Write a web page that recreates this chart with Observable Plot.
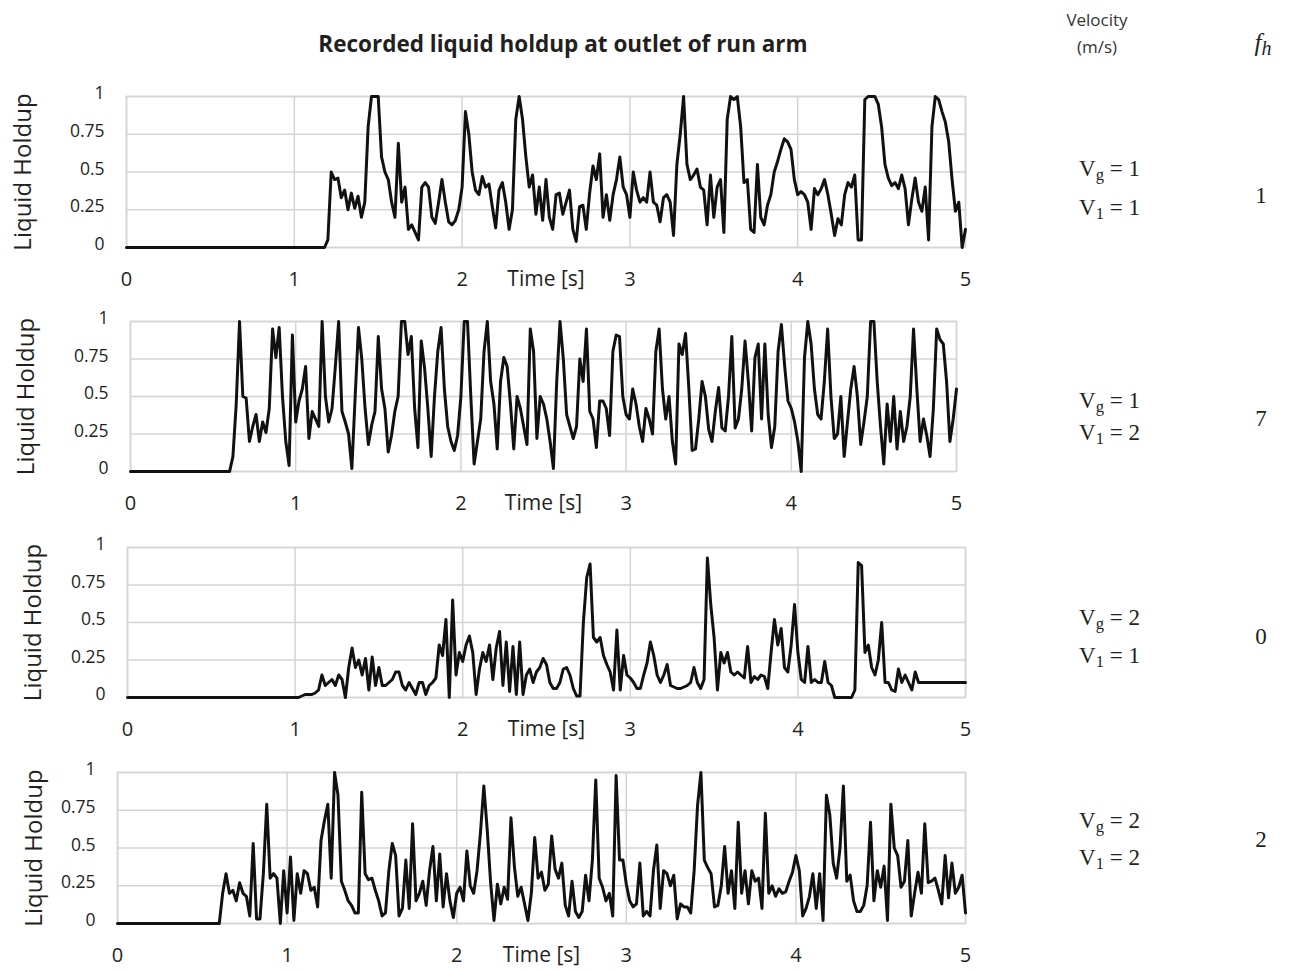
<!DOCTYPE html>
<html><head><meta charset="utf-8">
<script src="https://cdn.jsdelivr.net/npm/d3@7"></script>
<script src="https://cdn.jsdelivr.net/npm/@observablehq/plot@0.6"></script>
<style>
html,body{margin:0;padding:0;background:#fff;}
#root{position:relative;width:1291px;height:970px;overflow:hidden;font-family:"Open Sans",sans-serif;color:#231f20;}
.abs{position:absolute;white-space:nowrap;line-height:1;}
.c{transform:translate(-50%,-50%);}
.l{transform:translate(0,-50%);}
.serif{font-family:"Liberation Serif","Times New Roman",serif;}
.serif sub{font-size:0.72em;vertical-align:-0.3em;line-height:0;}
</style></head><body><div id="root"></div>
<script>
// ---- data (time in s, liquid holdup 0..1), sampled every dt seconds from each panel's start ----
const dt = 0.02;
const xTicks = [0, 1, 2, 3, 4, 5];
const yTicks = [0, 0.25, 0.5, 0.75, 1];
const title = "Recorded liquid holdup at outlet of run arm";
const yTitle = "Liquid Holdup";
const xTitle = "Time [s]";
const vgValues = [1, 1, 2, 2];
const vlValues = [1, 2, 1, 2];
const fhValues = [1, 7, 0, 2];

// Panel 1: Vg = 1, Vl = 1
const p1Start = 1.18;
const p1Values = [
  0,0.05,0.5,0.45,0.46,0.33,0.38,0.25,0.36,0.26,
  0.34,0.2,0.3,0.8,1,1,1,0.6,0.5,0.45,
  0.3,0.2,0.69,0.3,0.4,0.12,0.15,0.1,0.05,0.4,
  0.43,0.4,0.2,0.16,0.3,0.45,0.3,0.17,0.15,0.18,
  0.25,0.4,0.9,0.75,0.5,0.38,0.35,0.47,0.4,0.42,
  0.27,0.13,0.38,0.43,0.3,0.12,0.25,0.85,1,0.85,
  0.6,0.4,0.48,0.22,0.4,0.18,0.45,0.2,0.12,0.35,
  0.36,0.22,0.3,0.38,0.12,0.04,0.27,0.28,0.12,0.36,
  0.54,0.45,0.62,0.2,0.35,0.18,0.35,0.45,0.6,0.4,
  0.35,0.2,0.5,0.38,0.3,0.33,0.3,0.5,0.3,0.28,
  0.17,0.33,0.35,0.3,0.08,0.55,0.75,1,0.55,0.45,
  0.48,0.52,0.4,0.38,0.15,0.48,0.2,0.4,0.45,0.1,
  0.85,1,0.98,1,0.8,0.43,0.45,0.12,0.1,0.55,
  0.2,0.15,0.28,0.35,0.5,0.57,0.65,0.72,0.7,0.65,
  0.45,0.35,0.37,0.35,0.3,0.12,0.39,0.35,0.39,0.45,
  0.35,0.22,0.08,0.19,0.15,0.35,0.43,0.4,0.48,0.05,
  0.05,0.98,1,1,1,0.95,0.8,0.55,0.46,0.41,
  0.43,0.39,0.48,0.39,0.15,0.32,0.46,0.3,0.24,0.4,
  0.05,0.8,1,0.98,0.9,0.83,0.7,0.45,0.24,0.3,
  0,0.12
];

// Panel 2: Vg = 1, Vl = 2
const p2Start = 0.60;
const p2Values = [
  0,0.1,0.45,1,0.5,0.49,0.2,0.3,0.38,0.2,
  0.33,0.26,0.42,0.95,0.76,0.96,0.5,0.2,0.04,0.91,
  0.33,0.47,0.55,0.7,0.22,0.4,0.35,0.3,1,0.5,
  0.33,0.42,0.7,1,0.4,0.33,0.25,0.02,0.5,0.96,
  0.75,0.42,0.18,0.31,0.4,0.9,0.55,0.42,0.13,0.24,
  0.4,0.5,1,1,0.78,0.9,0.42,0.16,0.87,0.69,
  0.42,0.1,0.5,0.8,0.96,0.55,0.3,0.2,0.14,0.24,
  0.5,1,1,0.5,0.05,0.2,0.35,0.8,1,0.6,
  0.45,0.15,0.6,0.76,0.7,0.45,0.15,0.5,0.42,0.3,
  0.18,0.95,0.8,0.22,0.5,0.45,0.35,0.2,0.02,0.6,
  1,0.75,0.38,0.3,0.22,0.3,0.75,0.6,0.95,0.4,
  0.35,0.16,0.47,0.47,0.42,0.24,0.8,0.91,0.9,0.5,
  0.38,0.35,0.55,0.45,0.3,0.2,0.42,0.35,0.25,0.8,
  0.95,0.55,0.35,0.5,0.2,0.05,0.85,0.78,0.92,0.55,
  0.14,0.15,0.35,0.6,0.5,0.28,0.2,0.4,0.56,0.29,
  0.27,0.5,0.9,0.29,0.35,0.55,0.87,0.6,0.27,0.76,
  0.85,0.35,0.85,0.38,0.16,0.3,0.8,0.98,0.7,0.47,
  0.42,0.33,0.2,0,0.76,1,0.85,0.55,0.38,0.35,
  0.6,0.95,0.5,0.22,0.25,0.5,0.1,0.33,0.55,0.7,
  0.5,0.18,0.33,0.5,1,1,0.6,0.3,0.05,0.45,
  0.2,0.5,0.15,0.4,0.2,0.3,0.5,0.95,0.55,0.2,
  0.35,0.24,0.1,0.42,0.95,0.88,0.85,0.6,0.2,0.35,
  0.55
];

// Panel 3: Vg = 2, Vl = 1
const p3Start = 1.02;
const p3Values = [
  0,0.01,0.02,0.02,0.02,0.03,0.05,0.15,0.08,0.1,
  0.12,0.08,0.15,0.12,0,0.2,0.33,0.2,0.25,0.15,
  0.26,0.05,0.27,0.08,0.2,0.08,0.08,0.1,0.12,0.17,
  0.17,0.08,0.05,0.1,0.06,0.02,0.1,0.1,0.02,0.08,
  0.1,0.13,0.35,0.28,0.52,0,0.65,0.15,0.3,0.24,
  0.35,0.41,0.3,0.02,0.19,0.3,0.24,0.35,0.12,0.33,
  0.44,0.08,0.37,0.04,0.34,0.02,0.37,0.02,0.15,0.19,
  0.1,0.17,0.2,0.26,0.22,0.1,0.06,0.06,0.1,0.19,
  0.2,0.15,0.06,0.01,0.01,0.5,0.8,0.89,0.4,0.37,
  0.4,0.28,0.22,0.17,0.05,0.45,0.05,0.28,0.15,0.13,
  0.1,0.06,0.06,0.15,0.23,0.37,0.28,0.15,0.1,0.15,
  0.22,0.08,0.07,0.06,0.06,0.07,0.08,0.1,0.2,0.1,
  0.06,0.12,0.93,0.62,0.4,0.05,0.3,0.23,0.3,0.17,
  0.15,0.17,0.15,0.13,0.34,0.1,0.14,0.12,0.15,0.14,
  0.06,0.3,0.52,0.35,0.46,0.2,0.17,0.35,0.62,0.3,
  0.12,0.1,0.34,0.1,0.12,0.1,0.1,0.24,0.1,0.08,
  0,0,0,0,0,0,0.05,0.9,0.88,0.3,
  0.35,0.2,0.15,0.25,0.5,0.1,0.1,0.05,0.04,0.19,
  0.1,0.15,0.1,0.05,0.17,0.1,0.1,0.1,0.1,0.1,
  0.1,0.1,0.1,0.1,0.1,0.1,0.1,0.1,0.1,0.1
];

// Panel 4: Vg = 2, Vl = 2
const p4Start = 0.60;
const p4Values = [
  0,0.2,0.33,0.2,0.22,0.15,0.27,0.2,0.18,0.05,
  0.53,0.03,0.03,0.33,0.79,0.3,0.33,0.3,0,0.35,
  0.07,0.44,0.02,0.33,0.2,0.35,0.33,0.22,0.24,0.11,
  0.55,0.68,0.79,0.3,1,0.85,0.28,0.22,0.15,0.12,
  0.07,0.07,0.87,0.33,0.29,0.3,0.22,0.15,0.05,0.07,
  0.35,0.53,0.45,0.05,0.1,0.42,0.1,0.66,0.15,0.2,
  0.28,0.12,0.35,0.51,0.15,0.46,0.11,0.33,0.15,0.04,
  0.2,0.24,0.15,0.48,0.25,0.2,0.35,0.6,0.91,0.62,
  0.27,0.02,0.26,0.13,0.24,0.16,0.7,0.38,0.18,0.24,
  0.13,0.02,0.2,0.57,0.3,0.34,0.22,0.26,0.58,0.36,
  0.3,0.4,0.12,0.05,0.28,0.08,0.04,0.08,0.32,0.15,
  0.42,0.95,0.3,0.24,0.15,0.2,0.05,0.98,0.42,0.42,
  0.26,0.15,0.11,0.13,0.4,0.05,0.08,0.05,0.35,0.52,
  0.1,0.35,0.33,0.25,0.32,0.03,0.13,0.11,0.11,0.07,
  0.35,0.78,1,0.42,0.37,0.33,0.11,0.12,0.25,0.51,
  0.2,0.35,0.1,0.67,0.2,0.35,0.13,0.35,0.28,0.3,
  0.1,0.73,0.2,0.25,0.18,0.23,0.2,0.21,0.28,0.34,
  0.45,0.35,0.05,0.1,0.18,0.33,0.1,0.33,0.02,0.85,
  0.72,0.4,0.3,0.5,0.91,0.28,0.32,0.15,0.08,0.08,
  0.12,0.25,0.67,0.15,0.35,0.24,0.38,0.02,0.79,0.5,
  0.45,0.24,0.28,0.55,0.05,0.2,0.34,0.2,0.66,0.27,
  0.28,0.3,0.22,0.13,0.45,0.17,0.4,0.2,0.24,0.32,
  0.07
];

const series = [
  {start: p1Start, values: p1Values},
  {start: p2Start, values: p2Values},
  {start: p3Start, values: p3Values},
  {start: p4Start, values: p4Values}
];

// ---- layout (page pixels) ----
const layouts = [
  {left: 126, right: 965, top: 96,  bottom: 247, titleX: 23},
  {left: 130, right: 956, top: 321, bottom: 471, titleX: 26},
  {left: 127, right: 965, top: 547, bottom: 697, titleX: 33},
  {left: 117, right: 965, top: 772, bottom: 923, titleX: 34}
];
const vgY = [168, 400, 617, 820];
const vlY = [207, 432, 655, 857];
const fhY = [195, 418, 636, 839];

const root = document.getElementById("root");
const gridStyle = {stroke: "#d4d4d4", strokeOpacity: 1, strokeWidth: 1.5};

series.forEach((s, k) => {
  const L = layouts[k];
  const data = [{t: 0, v: 0}].concat(s.values.map((v, i) => ({t: s.start + i * dt, v})));
  const mt = 20, mb = 60, W = 1000;
  const H = mt + (L.bottom - L.top) + mb;
  const svg = Plot.plot({
    width: W, height: H,
    marginTop: mt, marginBottom: mb, marginLeft: L.left, marginRight: W - L.right,
    style: {fontFamily: "'Open Sans', sans-serif", color: "#231f20", background: "transparent", overflow: "visible"},
    x: {domain: [0, 5]},
    y: {domain: [0, 1]},
    marks: [
      Plot.gridX(xTicks, gridStyle),
      Plot.gridY(yTicks, gridStyle),
      Plot.frame({stroke: "#d4d4d4", strokeWidth: 1.5}),
      Plot.line(data, {x: "t", y: "v", stroke: "#111", strokeWidth: 3, strokeLinejoin: "round"}),
      Plot.axisX(xTicks, {tickSize: 0, tickPadding: 24, fontSize: 20, label: null, tickFormat: d => String(d)}),
      Plot.axisY(yTicks, {tickSize: 0, tickPadding: 22, fontSize: 17.5, label: null, tickFormat: d => String(d), dy: -3}),
      Plot.text([xTitle], {text: d => d, frameAnchor: "bottom", dy: 38, fontSize: 21}),
      Plot.text([yTitle], {text: d => d, frameAnchor: "left", textAnchor: "middle", dx: L.titleX - L.left, rotate: -90, fontSize: 24})
    ]
  });
  svg.style.position = "absolute";
  svg.style.left = "0px";
  svg.style.top = (L.top - mt) + "px";
  root.appendChild(svg);

  const vg = document.createElement("div");
  vg.className = "abs l serif";
  vg.style.cssText = `left:1079px;top:${vgY[k]}px;font-size:23px;`;
  vg.innerHTML = `V<sub>g</sub> = ${vgValues[k]}`;
  root.appendChild(vg);
  const vl = document.createElement("div");
  vl.className = "abs l serif";
  vl.style.cssText = `left:1079px;top:${vlY[k]}px;font-size:23px;`;
  vl.innerHTML = `V<sub>1</sub> = ${vlValues[k]}`;
  root.appendChild(vl);
  const fh = document.createElement("div");
  fh.className = "abs c serif";
  fh.style.cssText = `left:1261px;top:${fhY[k]}px;font-size:23px;`;
  fh.textContent = String(fhValues[k]);
  root.appendChild(fh);
});

function addText(html, x, y, css, cls) {
  const d = document.createElement("div");
  d.className = "abs " + (cls || "c");
  d.style.cssText = `left:${x}px;top:${y}px;` + css;
  d.innerHTML = html;
  root.appendChild(d);
}
addText(title, 563, 44, "font-weight:700;font-size:22.5px;");
addText("Velocity", 1097, 19, "font-size:17px;color:#333;");
addText("(m/s)", 1097, 46, "font-size:17px;color:#333;");
addText("<i>f</i><sub style='font-size:0.8em;vertical-align:-0.2em'><i>h</i></sub>", 1263, 42, "font-size:25px;", "c serif");
</script>
</body></html>
